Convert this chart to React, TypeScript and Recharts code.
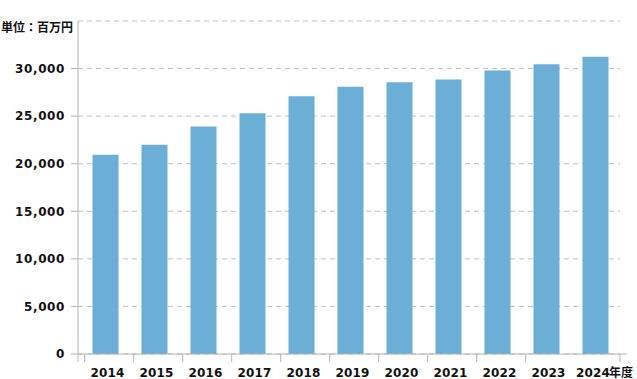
import React from 'react';
import { BarChart, Bar, XAxis, YAxis, CartesianGrid } from 'recharts';

const years = ['2014', '2015', '2016', '2017', '2018', '2019', '2020', '2021', '2022', '2023', '2024'];
const sales = [20950, 22000, 23900, 25300, 27100, 28100, 28550, 28850, 29800, 30450, 31250];
const yTicks = [0, 5000, 10000, 15000, 20000, 25000, 30000];
const unitLabel = '単位：百万円';
const yearSuffix = '年度';

const data = years.map((y, i) => ({ year: y, value: sales[i] }));

const AXIS = '#b4b4b4';
const FONT = '"DejaVu Sans", Verdana, sans-serif';

const XTick = (props: any) => {
  const { x, y, payload, index } = props;
  const last = index === years.length - 1;
  return (
    <g>
      {index === 0 && <line x1={x - 27} x2={x - 27} y1={y} y2={y + 8} stroke={AXIS} />}
      {!last && <line x1={x - 20.3} x2={x - 20.3} y1={y} y2={y + 8} stroke={AXIS} />}
      {last && <line x1={x + 25} x2={x + 25} y1={y} y2={y + 8} stroke={AXIS} />}
      {last && <line x1={x + 25} x2={x + 32} y1={y} y2={y} stroke={AXIS} />}
      <text x={last ? x - 2 : x + 2.5} y={y + 23} textAnchor="middle" fontFamily={FONT} fontWeight="bold" fontSize={12} letterSpacing={0.2} fill="#111">
        {payload.value}
      </text>
      {last && (
        <text x={x + 14} y={y + 23} textAnchor="start" fontFamily='"Noto Sans CJK JP", sans-serif' fontWeight="bold" fontSize={12} fill="#111">
          {yearSuffix}
        </text>
      )}
    </g>
  );
};

const YTick = (props: any) => {
  const { x, y, payload } = props;
  return (
    <text x={x + 1} y={y} dy="0.36em" textAnchor="end" fontFamily={FONT} fontWeight="bold" fontSize={12} letterSpacing={0.6} fill="#111">
      {Number(payload.value).toLocaleString('en-US')}
    </text>
  );
};

export default function App() {
  return (
    <div style={{ position: 'absolute', left: 0, top: 0, width: 637, height: 379, background: '#fff' }}>
      <BarChart width={637} height={379} data={data} margin={{ top: 21, right: 17, bottom: 0, left: 0 }}>
        <CartesianGrid vertical={false} stroke="#c0c0c0" strokeDasharray="5 4" />
        <XAxis
          dataKey="year"
          height={25}
          padding={{ left: 2.5, right: 0.5 }}
          axisLine={{ stroke: AXIS }}
          tickLine={false}
          tickSize={0}
          tickMargin={0}
          tick={<XTick />}
          interval={0}
        />
        <XAxis xAxisId="top" orientation="top" dataKey="year" height={0} tick={false} tickLine={false} axisLine={{ stroke: AXIS }} />
        <YAxis
          width={78}
          domain={[0, 35000]}
          ticks={yTicks}
          allowDataOverflow
          axisLine={{ stroke: AXIS }}
          tickLine={{ stroke: AXIS }}
          tickSize={7}
          tickMargin={7}
          tick={<YTick />}
        />
        <YAxis yAxisId="right" orientation="right" width={0} tick={false} tickLine={false} axisLine={{ stroke: AXIS }} />
        <Bar dataKey="value" fill="#6baed6" barSize={26} isAnimationActive={false} />
      </BarChart>
      <div
        style={{
          position: 'absolute',
          left: 1,
          top: 19,
          fontFamily: '"Noto Sans CJK JP", sans-serif',
          fontWeight: 'bold',
          fontSize: 12,
          lineHeight: '16px',
          color: '#111',
          whiteSpace: 'nowrap',
        }}
      >
        {unitLabel}
      </div>
    </div>
  );
}
